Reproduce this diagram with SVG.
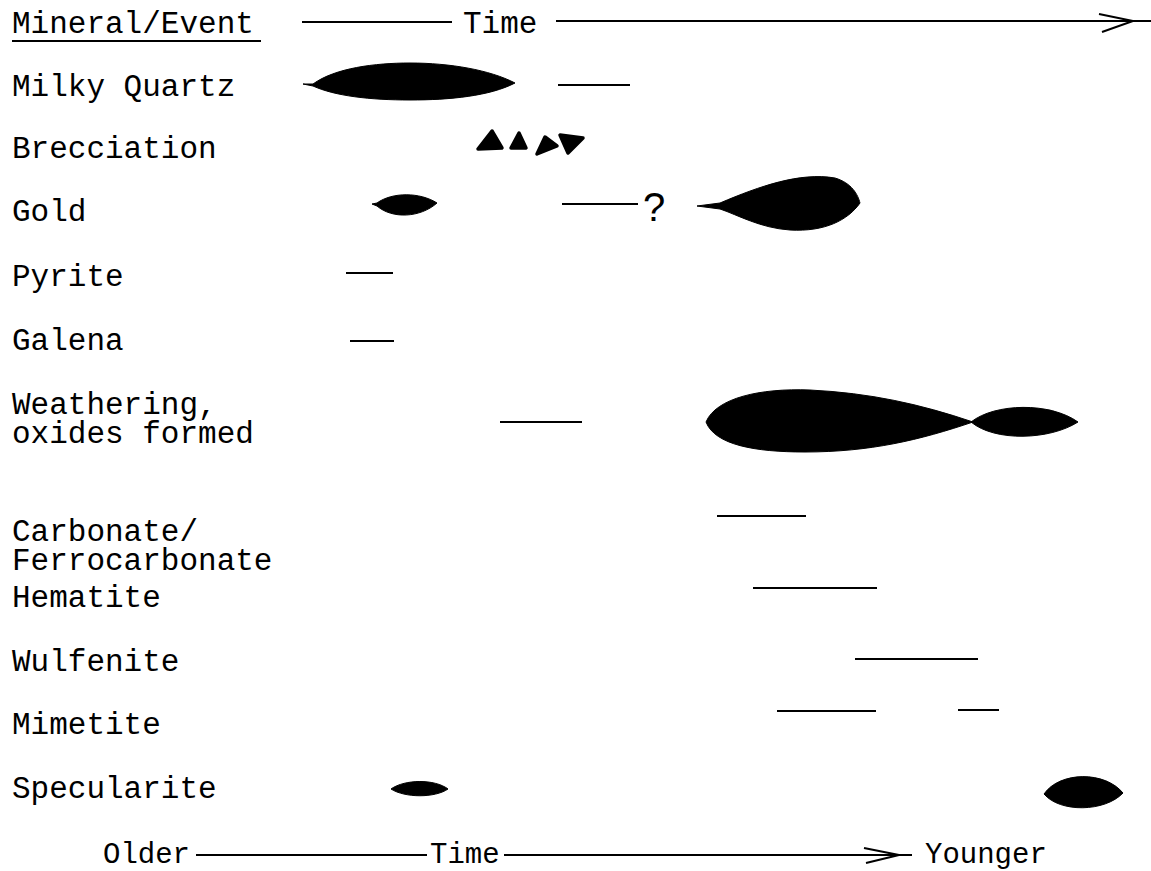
<svg xmlns="http://www.w3.org/2000/svg" width="1151" height="871" viewBox="0 0 1151 871">
  <style>
    .lbl { font-family: "Liberation Mono", "DejaVu Sans Mono", monospace; font-size: 31px; fill: #000; }
    .foot { font-family: "Liberation Mono", "DejaVu Sans Mono", monospace; font-size: 29px; fill: #000; }
    .bar { stroke: #000; stroke-width: 2; fill: none; stroke-linecap: butt; }
    .axis { stroke: #000; stroke-width: 2; fill: none; }
    .blob { fill: #000; stroke: #000; stroke-width: 1; stroke-linejoin: round; }
    .tri { fill: #000; stroke: #000; stroke-width: 3.5; stroke-linejoin: round; }
    .q { font-family: "Liberation Sans", Arial, sans-serif; font-size: 40px; fill: #000; }
  </style>
  <rect width="1151" height="871" fill="#fff"/>

  <!-- header: column title and time axis -->
  <g id="header">
    <text class="lbl" x="12" y="33">Mineral/Event</text>
    <line class="axis" x1="12" y1="41" x2="261" y2="41"/>
    <line class="axis" x1="302" y1="22" x2="452" y2="22"/>
    <text class="lbl" x="463" y="33">Time</text>
    <line class="axis" x1="556" y1="21" x2="1151" y2="21"/>
    <polyline class="axis" points="1099,14 1133,21 1102,32"/>
  </g>

  <!-- row labels -->
  <g id="labels">
    <text class="lbl" x="12" y="96">Milky Quartz</text>
    <text class="lbl" x="12" y="158">Brecciation</text>
    <text class="lbl" x="12" y="221">Gold</text>
    <text class="lbl" x="12" y="286">Pyrite</text>
    <text class="lbl" x="12" y="350">Galena</text>
    <text class="lbl" x="12" y="414">Weathering,</text>
    <text class="lbl" x="12" y="443">oxides formed</text>
    <text class="lbl" x="12" y="541">Carbonate/</text>
    <text class="lbl" x="12" y="570">Ferrocarbonate</text>
    <text class="lbl" x="12" y="607">Hematite</text>
    <text class="lbl" x="12" y="671">Wulfenite</text>
    <text class="lbl" x="12" y="734">Mimetite</text>
    <text class="lbl" x="12" y="798">Specularite</text>
  </g>

  <!-- Milky Quartz -->
  <g id="milky-quartz">
    <path class="blob" d="M303,84 L313,84 C335,68 375,63 410,63 C450,63 490,70 515,83 C490,96 450,100 410,100 C370,100 335,96 313,86 Z"/>
    <line class="bar" x1="558" y1="85" x2="630" y2="85"/>
  </g>

  <!-- Brecciation -->
  <g id="brecciation">
    <polygon class="tri" points="478,149 492,131 502,148"/>
    <polygon class="tri" points="511,148 519,133 526,148"/>
    <polygon class="tri" points="537,154 545,137 557,146"/>
    <polygon class="tri" points="560,135 583,138 568,153"/>
  </g>

  <!-- Gold -->
  <g id="gold">
    <path class="blob" d="M372,204 L377,203 C392,192 420,192 437,203 C420,218 392,219 377,206 Z"/>
    <line class="bar" x1="562" y1="204" x2="638" y2="204"/>
    <text class="q" x="643" y="221">?</text>
    <path class="blob" d="M697,206 L720,203 C760,186 800,172 835,178 C852,183 858,195 860,203 C848,220 825,232 790,230 C760,228 738,215 720,209 Z"/>
  </g>

  <!-- Pyrite -->
  <g id="pyrite">
    <line class="bar" x1="346" y1="273" x2="393" y2="273"/>
  </g>

  <!-- Galena -->
  <g id="galena">
    <line class="bar" x1="350" y1="341" x2="394" y2="341"/>
  </g>

  <!-- Weathering, oxides formed -->
  <g id="weathering">
    <line class="bar" x1="500" y1="422" x2="582" y2="422"/>
    <path class="blob" d="M706,422 C716,398 760,388 810,390 C870,393 920,404 973,422 C920,440 870,452 805,452 C755,452 715,445 706,422 Z"/>
    <path class="blob" d="M971,422 C995,403 1050,402 1078,422 C1050,440 995,442 971,422 Z"/>
  </g>

  <!-- Carbonate / Ferrocarbonate -->
  <g id="carbonate">
    <line class="bar" x1="717" y1="516" x2="806" y2="516"/>
  </g>

  <!-- Hematite -->
  <g id="hematite">
    <line class="bar" x1="753" y1="588" x2="877" y2="588"/>
  </g>

  <!-- Wulfenite -->
  <g id="wulfenite">
    <line class="bar" x1="855" y1="659" x2="978" y2="659"/>
  </g>

  <!-- Mimetite -->
  <g id="mimetite">
    <line class="bar" x1="777" y1="711" x2="876" y2="711"/>
    <line class="bar" x1="958" y1="710" x2="999" y2="710"/>
  </g>

  <!-- Specularite -->
  <g id="specularite">
    <path class="blob" d="M391,789 C405,779 435,779 448,789 C435,798 405,798 391,789 Z"/>
    <path class="blob" d="M1044,794 C1060,771 1105,771 1123,793 C1105,812 1060,813 1044,794 Z"/>
  </g>

  <!-- footer: time axis, older to younger -->
  <g id="footer">
    <text class="foot" x="103" y="863">Older</text>
    <line class="axis" x1="196" y1="855" x2="427" y2="855"/>
    <text class="foot" x="430" y="863">Time</text>
    <line class="axis" x1="504" y1="855" x2="912" y2="855"/>
    <polyline class="axis" points="864,848 899,855 866,863"/>
    <text class="foot" x="925" y="863">Younger</text>
  </g>
</svg>
